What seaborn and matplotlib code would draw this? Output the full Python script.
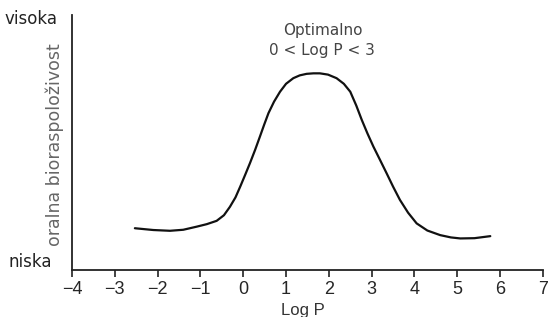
import numpy as np
import pandas as pd
import matplotlib
matplotlib.use("Agg")
import matplotlib.pyplot as plt
import seaborn as sns

# values (y in arbitrary units, 0 = niska, 10 = visoka)
log_p = [-2.53, -2.1, -1.71, -1.4, -1.09, -0.85, -0.62, -0.45, -0.31, -0.18,
         -0.07, 0.05, 0.16, 0.28, 0.39, 0.49, 0.59, 0.72, 0.86, 1.0, 1.17,
         1.32, 1.48, 1.64, 1.79, 1.98, 2.18, 2.35, 2.5, 2.64, 2.77, 2.9,
         3.04, 3.2, 3.35, 3.5, 3.66, 3.85, 4.05, 4.3, 4.6, 4.85, 5.07, 5.4,
         5.77]
bioavail = [1.64, 1.57, 1.54, 1.58, 1.70, 1.80, 1.93, 2.15, 2.48, 2.85,
            3.27, 3.75, 4.20, 4.72, 5.23, 5.70, 6.15, 6.60, 6.99, 7.30, 7.52,
            7.63, 7.69, 7.71, 7.71, 7.66, 7.52, 7.30, 6.99, 6.45, 5.88, 5.36,
            4.84, 4.30, 3.79, 3.27, 2.75, 2.25, 1.83, 1.55, 1.37, 1.28, 1.24,
            1.25, 1.33]
xticks = [-4, -3, -2, -1, 0, 1, 2, 3, 4, 5, 6, 7]

df = pd.DataFrame({"logp": log_p, "bio": bioavail})

sns.set_style("white")
plt.rcParams['font.family'] = ['DejaVu Sans']

fig = plt.figure(figsize=(5.49, 3.17), dpi=100)
ax = fig.add_axes([0.131, 0.148, 0.858, 0.805])
sns.lineplot(data=df, x="logp", y="bio", color="#111111", linewidth=1.6, ax=ax)

ax.set_xlim(-4, 7)
ax.set_ylim(0, 10)
ax.set_xticks(xticks)
ax.set_xticklabels([str(t).replace("-", "\u2212") for t in xticks],
                   fontfamily="Liberation Sans", fontsize=13)
ax.tick_params(axis="x", direction="out", length=5, width=1.2, color="#222222",
               pad=3, bottom=True)
ax.set_yticks([])
ax.set_xlabel("Log P", fontfamily="Liberation Sans", fontsize=12, labelpad=0,
              color="#333333")
ax.xaxis.set_label_coords(0.49, -0.13, transform=ax.transAxes)
ax.xaxis.label.set_va("top")
ax.set_ylabel("")
sns.despine(ax=ax)
for s in ["left", "bottom"]:
    ax.spines[s].set_color("#222222")
    ax.spines[s].set_linewidth(1.3)

fig.text(0.008, 0.94, "visoka", fontsize=12, color="#222222", va="center")
fig.text(0.015, 0.175, "niska", fontsize=12, color="#222222", va="center")
fig.text(0.1, 0.545, "oralna bioraspoloživost", rotation=90, fontsize=12.5,
         color="#666666", va="center", ha="center")
ax.text(1.85, 9.0, "Optimalno\n0 < Log P < 3", fontsize=11, color="#444444",
        ha="center", va="center", linespacing=1.45)

fig.savefig("out.png", dpi=100)
